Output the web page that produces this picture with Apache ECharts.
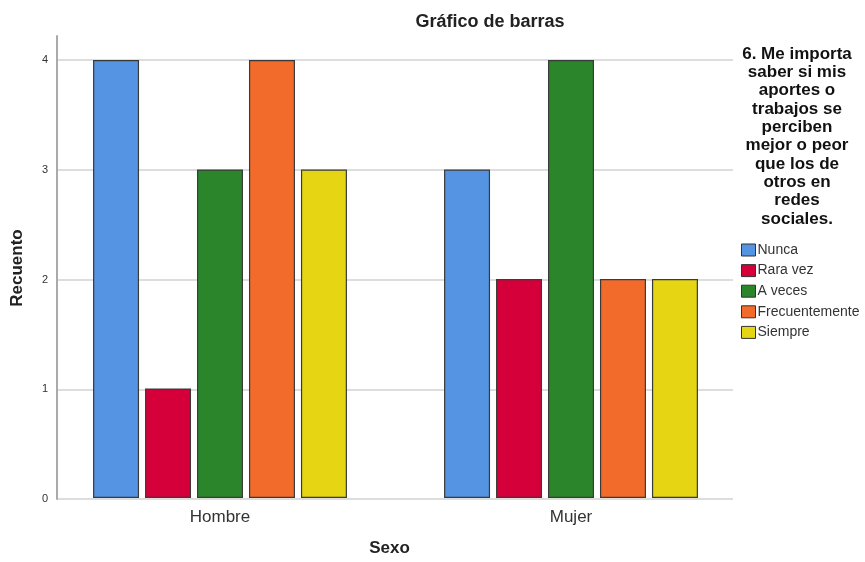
<!DOCTYPE html>
<html>
<head>
<meta charset="utf-8">
<script src="https://cdn.jsdelivr.net/npm/echarts@6/dist/echarts.min.js"></script>
<style>
html,body{margin:0;padding:0;background:#fff;}
#c{width:865px;height:562px;}
</style>
</head>
<body>
<div id="c"></div>
<script>
const categories = ['Hombre', 'Mujer'];
const seriesNames = ['Nunca', 'Rara vez', 'A veces', 'Frecuentemente', 'Siempre'];
const nunca = [4, 3];
const raraVez = [1, 2];
const aVeces = [3, 4];
const frecuentemente = [4, 2];
const siempre = [3, 2];
const yTicks = [0, 1, 2, 3, 4];
const colors = ['#5594E2', '#D5003A', '#2B862B', '#F26B2B', '#E5D512'];
const legendTitle = '6. Me importa\nsaber si mis\naportes o\ntrabajos se\nperciben\nmejor o peor\nque los de\notros en\nredes\nsociales.';

const values = [nunca, raraVez, aVeces, frecuentemente, siempre];
const font = 'Liberation Sans, Arial, sans-serif';

const chart = echarts.init(document.getElementById('c'), null, {renderer: 'canvas'});
chart.setOption({
  backgroundColor: '#fff',
  animation: false,
  color: colors,
  title: {
    text: 'Gráfico de barras',
    left: 485, top: 8, textAlign: 'center',
    textStyle: {fontFamily: font, fontSize: 18, fontWeight: 'bold', color: '#222'}
  },
  graphic: [{
    type: 'text', x: 797, y: 45,
    style: {
      text: legendTitle, textAlign: 'center', textVerticalAlign: 'top',
      font: 'bold 17px ' + font, lineHeight: 18.3, fill: '#111'
    }
  }, {
    type: 'text', x: 17, y: 268, rotation: Math.PI / 2,
    style: {
      text: 'Recuento', textAlign: 'center', textVerticalAlign: 'middle',
      font: 'bold 17px ' + font, fill: '#222'
    }
  }],
  legend: {
    orient: 'vertical', left: 736, top: 238,
    itemWidth: 14, itemHeight: 12, itemGap: 6.6, icon: 'rect',
    data: seriesNames,
    textStyle: {fontFamily: font, fontSize: 14, color: '#333', padding: [0, 0, 0, -3]},
    itemStyle: {borderColor: '#333', borderWidth: 1}
  },
  grid: [
    {left: 57, right: 132, top: 60, bottom: 63},
    {left: 57, right: 132, top: 36, bottom: 63},
    {left: 44.5, right: 118.5, top: 60, bottom: 63}
  ],
  xAxis: [
    {gridIndex: 0, type: 'category', data: categories, show: false},
    {gridIndex: 1, type: 'category', data: categories, show: false},
    {gridIndex: 2, type: 'category', data: categories,
     name: 'Sexo', nameLocation: 'middle', nameGap: 42,
     nameTextStyle: {fontFamily: font, fontSize: 17, fontWeight: 'bold', color: '#222', padding: [0, 0, 0, -12]},
     axisLine: {show: false}, axisTick: {show: false},
     axisLabel: {fontFamily: font, fontSize: 17, color: '#333', margin: 11}}
  ],
  yAxis: [
    {gridIndex: 0, type: 'value', min: 0, max: 4, interval: 1,
     axisLine: {show: false}, axisTick: {show: false},
     axisLabel: {fontFamily: font, fontSize: 11, color: '#333', margin: 9,
       formatter: v => yTicks.includes(v) ? String(v) : ''},
     splitLine: {show: true, lineStyle: {color: '#d2d2d2', width: 1.5}}},
    {gridIndex: 1, type: 'value', min: 0, max: 4.22,
     axisLine: {show: true, lineStyle: {color: '#aaaaaa', width: 2}},
     axisTick: {show: false}, axisLabel: {show: false}, splitLine: {show: false}},
    {gridIndex: 2, type: 'value', min: 0, max: 4, show: false, splitLine: {show: false}}
  ],
  series: seriesNames.map((n, i) => ({
    name: n, type: 'bar', xAxisIndex: 2, yAxisIndex: 2,
    data: values[i], barWidth: 46, barGap: '13%',
    itemStyle: {color: colors[i], borderColor: '#3a3a3a', borderWidth: 1.2}
  }))
});
</script>
</body>
</html>
